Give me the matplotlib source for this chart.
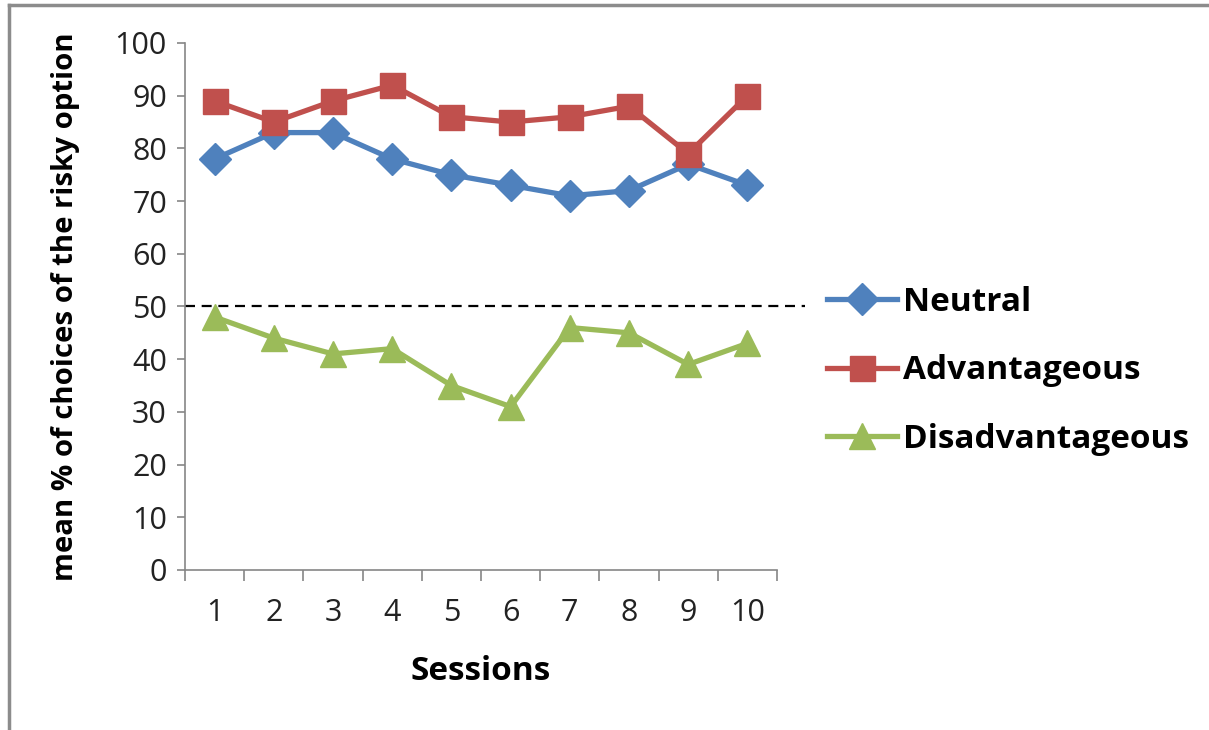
import matplotlib
matplotlib.use('Agg')
import matplotlib.pyplot as plt
from matplotlib.lines import Line2D

sessions = [1, 2, 3, 4, 5, 6, 7, 8, 9, 10]
neutral = [78, 83, 83, 78, 75, 73, 71, 72, 77, 73]
advantageous = [89, 85, 89, 92, 86, 85, 86, 88, 79, 90]
disadvantageous = [48, 44, 41, 42, 35, 31, 46, 45, 39, 43]
chance_level = 50
y_ticks = list(range(0, 101, 10))

BLUE = '#4F81BD'
RED = '#C0504D'
GREEN = '#9BBB59'
AXIS_GRAY = '#868686'
FONT = ['Open Sans', 'DejaVu Sans']

plt.rcParams['font.family'] = FONT

fig = plt.figure(figsize=(12.09, 7.30), dpi=100)
ax = fig.add_axes([0.153, 0.2192, 0.4897, 0.7219])

ax.plot(sessions, neutral, color=BLUE, lw=3.8, marker='D', ms=16, mec=BLUE, label='Neutral')
ax.plot(sessions, advantageous, color=RED, lw=3.8, marker='s', ms=18, mec=RED, label='Advantageous')
ax.plot(sessions, disadvantageous, color=GREEN, lw=3.8, marker='^', ms=19, mec=GREEN, label='Disadvantageous')

# reference line runs past the right edge of the plot area
ax.axhline(chance_level, xmin=0, xmax=1.047, color='black', lw=1.6,
           ls=(0, (4.5, 3)), clip_on=False, zorder=1)

ax.set_xlim(sessions[0] - 0.5, sessions[-1] + 0.5)
ax.set_ylim(y_ticks[0], y_ticks[-1])
ax.set_yticks(y_ticks)

# category ticks sit between sessions, labels centred on each session
ax.set_xticks([s - 0.5 for s in sessions] + [sessions[-1] + 0.5])
ax.set_xticklabels([])
ax.set_xticks(sessions, minor=True)
ax.set_xticklabels([str(s) for s in sessions], minor=True)
ax.tick_params(axis='x', which='major', length=8, width=1.2, color=AXIS_GRAY, direction='out')
ax.tick_params(axis='x', which='minor', length=0, pad=20.5, labelsize=22, labelcolor='#222222')
ax.tick_params(axis='y', length=6, width=1.2, color=AXIS_GRAY, direction='out',
               pad=7, labelsize=22, labelcolor='#222222')

for side in ('top', 'right'):
    ax.spines[side].set_visible(False)
for side in ('left', 'bottom'):
    ax.spines[side].set_color(AXIS_GRAY)
    ax.spines[side].set_linewidth(1.2)

ax.set_xlabel('Sessions', fontsize=24, fontweight='bold', labelpad=19)
ax.set_ylabel('mean % of choices of the risky option', fontsize=21.2, fontweight='bold', labelpad=25)

ax.legend(loc='center left', bbox_to_anchor=(1.062, 0.378), frameon=False,
          prop={'family': FONT, 'weight': 'bold', 'size': 24},
          handlelength=2.1, handletextpad=0.18, labelspacing=1.07, borderaxespad=0)

# outer frame: only top and left edges are visible
fig.add_artist(Line2D([0.0078, 0.0078], [0, 0.9925], transform=fig.transFigure,
                      color='#8C8C8C', lw=2.5))
fig.add_artist(Line2D([0.0078, 1.0], [0.9925, 0.9925], transform=fig.transFigure,
                      color='#8C8C8C', lw=2.5))

fig.savefig('out.png', dpi=100, facecolor='white')
